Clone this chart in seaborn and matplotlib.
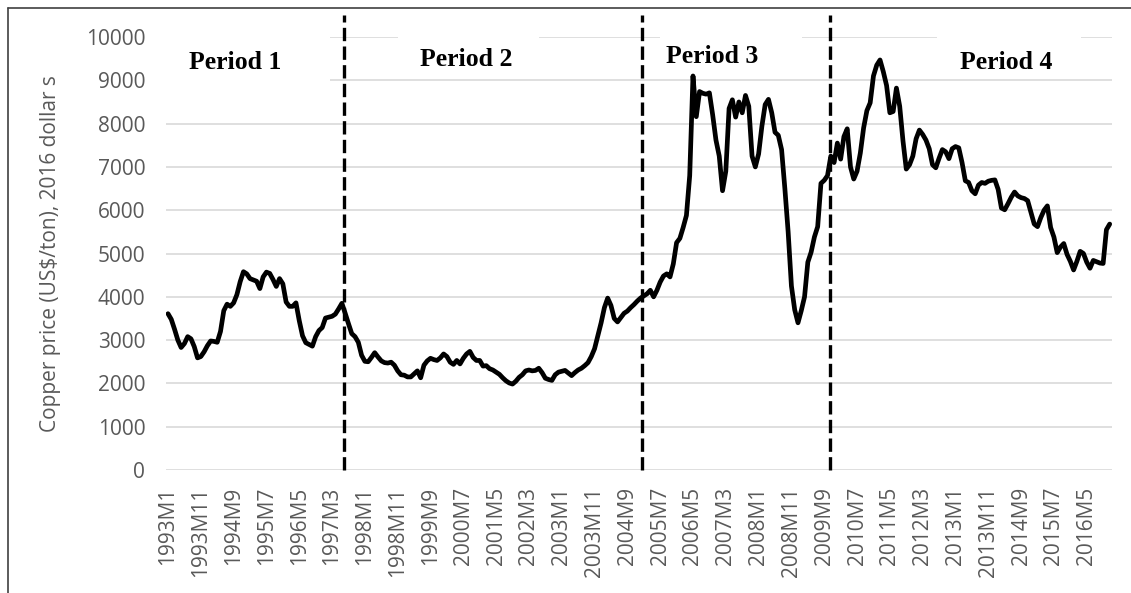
import numpy as np
import pandas as pd
import seaborn as sns
import matplotlib
matplotlib.use("Agg")
import matplotlib.pyplot as plt
from matplotlib.lines import Line2D
from matplotlib.patches import Rectangle

# monthly copper price, US$/ton in 2016 dollars
price_93_98 = [
    3610, 3480, 3250, 3000, 2830, 2920, 3080, 3030, 2850, 2590, 2620, 2730,
    2870, 2980, 2970, 2950, 3200, 3680, 3830, 3780, 3860, 4050, 4350, 4580,
    4530, 4420, 4390, 4360, 4190, 4460, 4570, 4540, 4400, 4240, 4420, 4300,
    3880, 3780, 3780, 3860, 3450, 3100, 2940, 2900, 2860, 3080, 3220, 3290,
    3510, 3530, 3550, 3600, 3720, 3850, 3620, 3380, 3150, 3080, 2950, 2650,
    2510, 2500, 2600, 2710, 2610, 2520, 2480, 2470, 2490, 2420, 2290, 2200,
]
price_99_04 = [
    2190, 2150, 2150, 2220, 2290, 2130, 2420, 2520, 2580, 2550, 2530, 2590,
    2680, 2620, 2490, 2440, 2530, 2450, 2580, 2680, 2740, 2600, 2530, 2530,
    2400, 2410, 2340, 2310, 2260, 2210, 2130, 2060, 2010, 1985, 2050, 2140,
    2200, 2290, 2310, 2290, 2300, 2350, 2250, 2120, 2090, 2070, 2200, 2260,
    2280, 2300, 2240, 2180, 2250, 2310, 2350, 2410, 2480, 2620, 2800, 3100,
    3400, 3750, 3970, 3800, 3500, 3420, 3520, 3620, 3670, 3750, 3820, 3900,
]
price_05_10 = [
    3970, 4020, 4070, 4150, 4000, 4150, 4340, 4480, 4530, 4460, 4760, 5250,
    5350, 5600, 5880, 6800, 9100, 8160, 8740, 8700, 8680, 8710, 8200, 7620,
    7250, 6450, 6900, 8350, 8550, 8150, 8500, 8250, 8650, 8400, 7250, 7000,
    7300, 7940, 8440, 8560, 8250, 7800, 7730, 7400, 6500, 5500, 4250, 3700,
    3400, 3680, 4000, 4800, 5030, 5380, 5620, 6620, 6690, 6800, 7250, 7100,
    7550, 7180, 7700, 7880, 7000, 6720, 6900, 7320, 7900, 8300, 8480, 9100,
]
price_11_16 = [
    9350, 9470, 9200, 8880, 8250, 8280, 8820, 8400, 7600, 6950, 7050, 7250,
    7650, 7850, 7750, 7620, 7420, 7050, 6980, 7200, 7400, 7350, 7190, 7420,
    7470, 7440, 7100, 6680, 6640, 6450, 6380, 6580, 6640, 6620, 6670, 6690,
    6700, 6480, 6050, 6010, 6150, 6300, 6420, 6330, 6290, 6270, 6220, 5950,
    5680, 5620, 5830, 6000, 6100, 5600, 5380, 5020, 5150, 5230, 4980, 4820,
    4620, 4820, 5050, 5000, 4800, 4660, 4840, 4810, 4780, 4770, 5550, 5680,
]

tick_labels = [
    "1993M1", "1993M11", "1994M9", "1995M7", "1996M5", "1997M3", "1998M1",
    "1998M11", "1999M9", "2000M7", "2001M5", "2002M3", "2003M1", "2003M11",
    "2004M9", "2005M7", "2006M5", "2007M3", "2008M1", "2008M11", "2009M9",
    "2010M7", "2011M5", "2012M3", "2013M1", "2013M11", "2014M9", "2015M7",
    "2016M5",
]
period_names = ["Period 1", "Period 2", "Period 3", "Period 4"]
period_breaks = [53.6, 144.5, 201.7]  # month index of the dashed separators

price = price_93_98 + price_99_04 + price_05_10 + price_11_16
df = pd.DataFrame({"month": np.arange(len(price)), "price": price})

sns.set_theme(style="whitegrid")
plt.rcParams["font.family"] = ["Open Sans", "DejaVu Sans"]

fig = plt.figure(figsize=(11.31, 5.93), dpi=100)
ax = fig.add_axes([0.1468, 0.2074, 0.8364, 0.7302])

sns.lineplot(data=df, x="month", y="price", ax=ax, color="black",
             linewidth=3.4, zorder=3)

ax.set_ylim(0, 10000)
ax.set_yticks(range(0, 10001, 1000))
ax.set_xlim(-0.6, 287.7)
ax.set_xticks(np.arange(0, 10 * len(tick_labels), 10))
ax.set_xticklabels(tick_labels, rotation=90)

ax.grid(axis="y", color="#d9d9d9", linewidth=1.2)
ax.grid(axis="x", visible=False)
for s in ax.spines.values():
    s.set_visible(False)

ax.tick_params(axis="both", length=0, labelsize=15, colors="#595959")
ax.tick_params(axis="y", pad=15)
ax.tick_params(axis="x", pad=12)
ax.set_xlabel("")
ax.set_ylabel("Copper price (US$/ton), 2016 dollar s", fontsize=15,
              color="#595959", labelpad=18)

# dashed period separators, reaching a bit above the plot area
for b in period_breaks:
    ax.axvline(b, ymin=0, ymax=1.051, clip_on=False, color="black",
               linewidth=2.4, dashes=(4, 1.6), zorder=4)

# white boxes behind the period titles (they hide the top gridlines)
boxes = [(0.0, 0.882, 0.173), (0.245, 0.924, 0.149),
         (0.522, 0.924, 0.150), (0.815, 0.924, 0.152)]
for x0, y0, w in boxes:
    ax.add_patch(Rectangle((x0, y0), w, 1.016 - y0, transform=ax.transAxes,
                           facecolor="white", edgecolor="none", zorder=2,
                           clip_on=False))

text_pos = [(0.073, 0.942), (0.317, 0.947), (0.577, 0.954), (0.888, 0.942)]
for (tx, ty), name in zip(text_pos, period_names):
    ax.text(tx, ty, name, transform=ax.transAxes, ha="center", va="center",
            family="Liberation Serif", fontweight="bold", fontsize=18.5,
            color="black", zorder=5)

# frame round the picture (left and top edges)
fx = 8 / 1131
fy = 1 - 8 / 593
fig.add_artist(Line2D([fx, fx], [0, fy], color="#404040", linewidth=1.2))
fig.add_artist(Line2D([fx, 1], [fy, fy], color="#404040", linewidth=1.2))

fig.savefig("out.png", dpi=100)
